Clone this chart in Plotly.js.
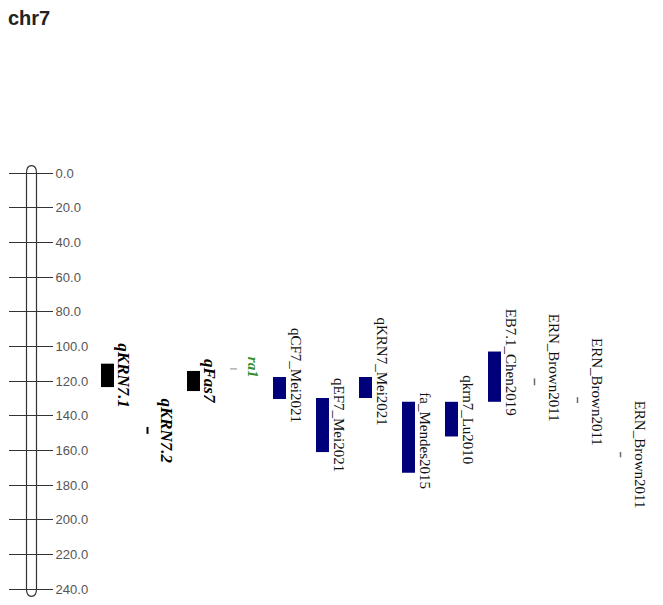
<!DOCTYPE html>
<html>
<head>
<meta charset="utf-8">
<script src="https://cdn.plot.ly/plotly-3.0.1.min.js"></script>
<style>html,body{margin:0;padding:0;background:#fff;}#chart{width:663px;height:605px;}</style>
</head>
<body>
<div id="chart"></div>
<script>
// ---- data ----
const chrName = 'chr7';
const chrLength = 240;
const tickValues = [0, 20, 40, 60, 80, 100, 120, 140, 160, 180, 200, 220, 240];
const tickLabels = ['0.0', '20.0', '40.0', '60.0', '80.0', '100.0', '120.0', '140.0', '160.0', '180.0', '200.0', '220.0', '240.0'];
const qtlNames = ['qKRN7.1', 'qKRN7.2', 'qFas7', 'ra1', 'qCF7_Mei2021', 'qEF7_Mei2021', 'qKRN7_Mei2021',
                  'fa_Mendes2015', 'qkrn7_Lu2010', 'EB7.1_Chen2019', 'ERN_Brown2011', 'ERN_Brown2011', 'ERN_Brown2011'];
const qtlStart = [110, 146.5, 114.2, 113, 117.7, 129.8, 117.7, 132, 132, 103, 118.5, 129.3, 161];
const qtlEnd   = [123.5, 150.5, 125.8, 113, 130.4, 161, 129.8, 173, 152, 132, 122.5, 132.7, 164];
const qtlGroup = ['own', 'own', 'own', 'gene', 'published', 'published', 'published',
                  'published', 'published', 'published', 'marker', 'marker', 'marker'];

// ---- layout / style ----
const W = 663, H = 605;
const pxTop = 173, pxPerUnit = 416 / 240;      // 0 cM at y=173px, 240 cM at y=589px
const colLeft0 = 101, colStep = 43, boxW = 13;
const labelShiftPx = [0, 0, 0, -2, -13, 0, -16, 3, 0, -15, -14, -8, 0];
const styles = {
  own:       {bar: '#000000', label: '#000000', bold: true,  italic: true,  size: 17, lw: 2},
  gene:      {bar: '#b0b0b0', label: '#2f8f2f', bold: true,  italic: true,  size: 15, lw: 1.5},
  published: {bar: '#00007a', label: '#111111', bold: false, italic: false, size: 15, lw: 1.5},
  marker:    {bar: '#6a6a6a', label: '#111111', bold: false, italic: false, size: 15, lw: 1.5}
};

const colLeft = qtlNames.map((_, i) => colLeft0 + i * colStep);
const isBox = qtlNames.map((_, i) => (qtlEnd[i] - qtlStart[i]) >= 5);
const isPoint = qtlNames.map((_, i) => qtlEnd[i] === qtlStart[i]);

const traces = [];
// interval boxes
const bi = qtlNames.map((_, i) => i).filter(i => isBox[i]);
traces.push({
  type: 'bar',
  x: bi.map(i => colLeft[i] + boxW / 2),
  base: bi.map(i => qtlStart[i]),
  y: bi.map(i => qtlEnd[i] - qtlStart[i]),
  width: boxW,
  marker: {color: bi.map(i => styles[qtlGroup[i]].bar), line: {width: 0}},
  hoverinfo: 'skip', showlegend: false
});
// short intervals drawn as thin vertical strokes; single loci as short horizontal dash
qtlNames.forEach((_, i) => {
  if (isBox[i]) return;
  const st = styles[qtlGroup[i]];
  const xs = isPoint[i] ? [colLeft[i], colLeft[i] + 7] : [colLeft[i] + 3.5, colLeft[i] + 3.5];
  traces.push({
    type: 'scatter', mode: 'lines',
    x: xs, y: [qtlStart[i], qtlEnd[i]],
    line: {color: st.bar, width: st.lw},
    hoverinfo: 'skip', showlegend: false
  });
});

// labels
const annotations = qtlNames.map((name, i) => {
  const st = styles[qtlGroup[i]];
  let t = name;
  if (st.italic) t = '<i>' + t + '</i>';
  if (st.bold) t = '<b>' + t + '</b>';
  return {
    x: colLeft[i] + 23, xref: 'x',
    y: (qtlStart[i] + qtlEnd[i]) / 2 + labelShiftPx[i] / pxPerUnit, yref: 'y',
    text: t, showarrow: false, textangle: 90,
    xanchor: 'center', yanchor: 'middle',
    font: {family: 'Liberation Serif, Times New Roman, serif', size: st.size, color: st.label}
  };
});

// chromosome outline (rounded rod)
const cx0 = 26.5, cx1 = 36.5, cap = 4.2;
const chrPath = `M ${cx0},0 Q ${cx0},${-cap} ${(cx0+cx1)/2},${-cap} Q ${cx1},${-cap} ${cx1},0 ` +
                `L ${cx1},${chrLength} Q ${cx1},${chrLength+cap} ${(cx0+cx1)/2},${chrLength+cap} ` +
                `Q ${cx0},${chrLength+cap} ${cx0},${chrLength} Z`;

const layout = {
  width: W, height: H,
  margin: {l: 0, r: 0, t: 0, b: 0, pad: 0},
  paper_bgcolor: '#ffffff', plot_bgcolor: '#ffffff',
  title: {
    text: '<b>' + chrName + '</b>',
    x: 8 / W, xanchor: 'left', xref: 'container',
    y: 1 - 18 / H, yanchor: 'middle', yref: 'container',
    font: {family: 'Liberation Sans, Arial, sans-serif', size: 20, color: '#222222'}
  },
  xaxis: {range: [0, W], visible: false, fixedrange: true},
  yaxis: {
    range: [(H - pxTop) / pxPerUnit, -pxTop / pxPerUnit],
    anchor: 'free', position: 8 / W, side: 'right',
    showline: false, showgrid: false, zeroline: false,
    ticks: 'outside', ticklen: 44, tickwidth: 1, tickcolor: '#333333',
    tickvals: tickValues, ticktext: tickLabels,
    tickfont: {family: 'Liberation Sans, Arial, sans-serif', size: 13, color: '#555555'},
    fixedrange: true
  },
  shapes: [{
    type: 'path', xref: 'x', yref: 'y', path: chrPath,
    line: {color: '#333333', width: 1.2}, fillcolor: 'rgba(0,0,0,0)', layer: 'above'
  }],
  annotations: annotations,
  showlegend: false,
  barmode: 'overlay'
};

Plotly.newPlot('chart', traces, layout, {displayModeBar: false, staticPlot: true});
</script>
</body>
</html>
